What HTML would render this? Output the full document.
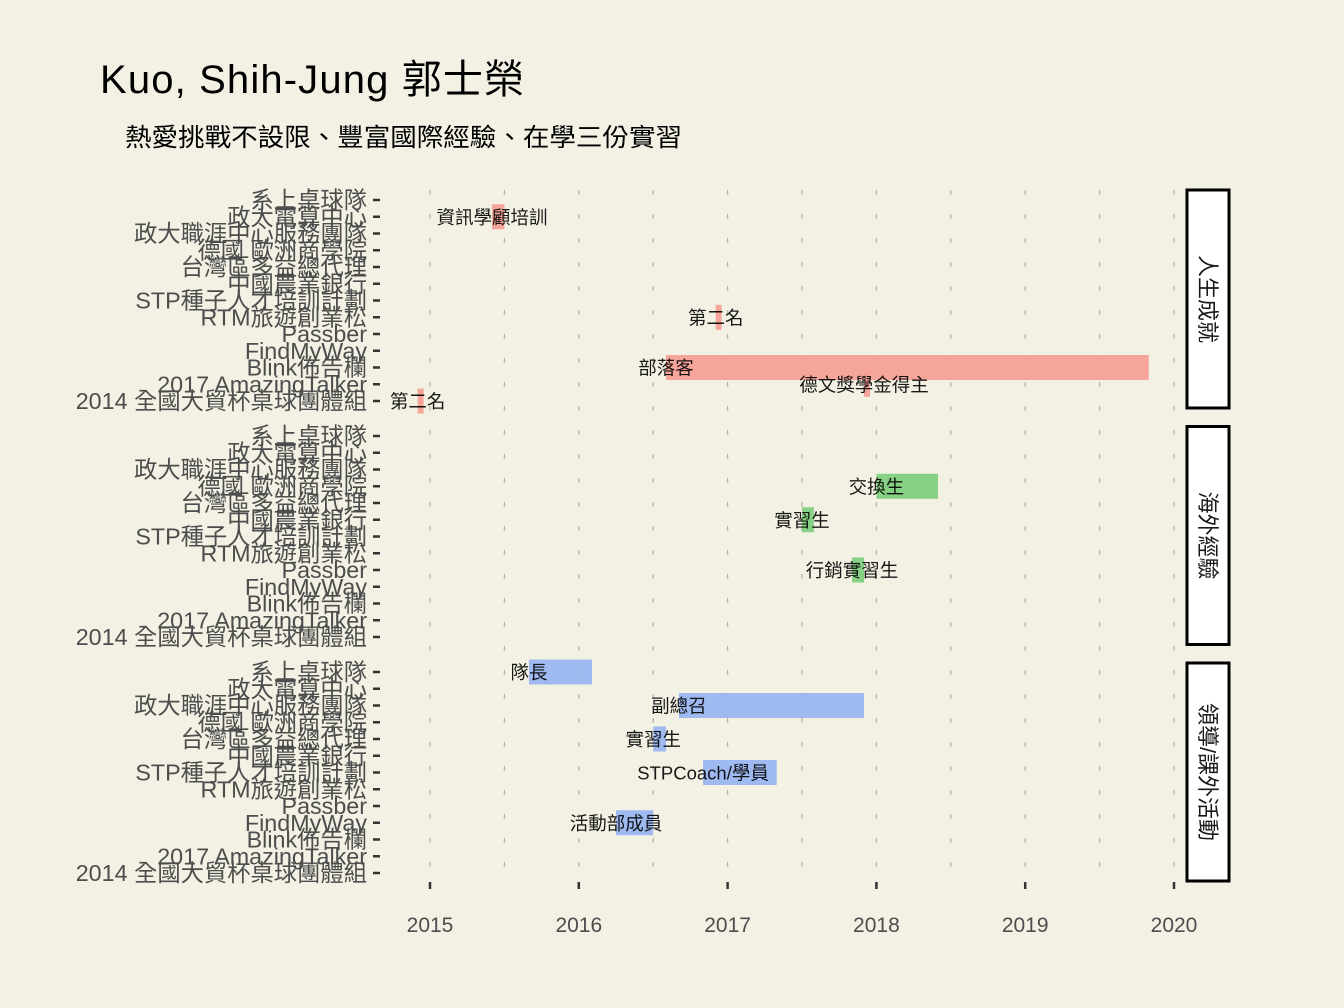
<!DOCTYPE html>
<html><head><meta charset="utf-8"><style>
html,body{margin:0;padding:0;background:#f3f1e4;}
svg{display:block;font-family:"Liberation Sans","Noto Sans CJK TC",sans-serif;}
</style></head><body>
<svg id="chart" width="1344" height="1008" viewBox="0 0 1344 1008">
<rect x="0" y="0" width="1344" height="1008" fill="#f3f1e4"/>
<text x="100" y="93" font-size="40" fill="#000" textLength="424" lengthAdjust="spacing">Kuo, Shih-Jung  郭士榮</text>
<text x="125" y="146" font-size="25" fill="#000" textLength="557" lengthAdjust="spacingAndGlyphs">熱愛挑戰不設限、豐富國際經驗、在學三份實習</text>
<g id="plot"></g>
</svg>
<script>
const categories = ["系上桌球隊","政大電算中心","政大職涯中心服務團隊","德國 歐洲商學院","台灣區多益總代理","中國農業銀行","STP種子人才培訓計劃","RTM旅遊創業松","Passber","FindMyWay","Blink佈告欄","2017 AmazingTalker","2014 全國大貿杯桌球團體組"];
const panels = ["人生成就","海外經驗","領導/課外活動"];
const panelColors = ["#f4a096","#7fcf7e","#9ab6f0"];
const xTicks = [2015,2016,2017,2018,2019,2020];
const barPanel = [0,0,0,0,0,1,1,1,2,2,2,2,2];
const barCategory = ["政大電算中心","RTM旅遊創業松","Blink佈告欄","2017 AmazingTalker","2014 全國大貿杯桌球團體組","德國 歐洲商學院","中國農業銀行","Passber","系上桌球隊","政大職涯中心服務團隊","台灣區多益總代理","STP種子人才培訓計劃","FindMyWay"];
const barStart = [2015.417,2016.92,2016.586,2017.917,2014.917,2018.0,2017.5,2017.836,2015.665,2016.673,2016.5,2016.835,2016.25];
const barEnd = [2015.5,2016.96,2019.83,2017.957,2014.957,2018.414,2017.58,2017.917,2016.089,2017.917,2016.586,2017.33,2016.5];
const barLabels = ["資訊學顧培訓","第二名","部落客","德文獎學金得主","第二名","交換生","實習生","行銷實習生","隊長","副總召","實習生","STPCoach/學員","活動部成員"];

const NS="http://www.w3.org/2000/svg";
const g=document.getElementById('plot');
const X0=430, X1=1174;
const x = v => X0 + (v-2015)*(X1-X0)/5;
const panelTop=[200,436,672], rowStep=16.75;
const y = (p,cat) => panelTop[p] + categories.indexOf(cat)*rowStep;
function mk(tag,attrs,parent){const e=document.createElementNS(NS,tag);for(const k in attrs)e.setAttribute(k,attrs[k]);(parent||g).appendChild(e);return e;}

for(let v=2015; v<=2020; v+=0.5){
  const gl=mk('line',{x1:x(v),x2:x(v),y1:190,y2:885,stroke:'#b8b6aa','stroke-width':1.3,'stroke-dasharray':'5,19'});
  
  
}
xTicks.forEach(t=>{
  const tk=mk('line',{x1:x(t),x2:x(t),y1:882,y2:889,stroke:'#333','stroke-width':2.5});
  
  
  const tl=mk('text',{x:x(t),y:932,'text-anchor':'middle','font-size':21,fill:'#4d4d4d'});
  tl.textContent=t;
  
  
});
panels.forEach((pn,p)=>{
  categories.forEach((c,i)=>{
    const yy=panelTop[p]+i*rowStep;
    const tk=mk('line',{x1:373,x2:380,y1:yy,y2:yy,stroke:'#333','stroke-width':2.5});
    
    
    const tl=mk('text',{x:367,y:yy+8,'text-anchor':'end','font-size':23.3,fill:'#4d4d4d'});
    tl.textContent=c;
    
    
  });
  const top=190+p*236.5;
  const sb=mk('rect',{x:1187,y:top,width:42,height:218,fill:'#ffffff',stroke:'#000','stroke-width':3});
  
  
  const st=mk('text',{x:0,y:0,'text-anchor':'middle','font-size':22,fill:'#1a1a1a',transform:`translate(1200,${top+109}) rotate(90)`});
  st.textContent=pn;
  
  
});
barLabels.forEach((lab,i)=>{
  const p=barPanel[i], yy=y(p,barCategory[i]);
  const r=mk('rect',{x:x(barStart[i]),y:yy-12.5,width:Math.max(1,x(barEnd[i])-x(barStart[i])),height:25,fill:panelColors[p],opacity:0.95});
  
  
});
barLabels.forEach((lab,i)=>{
  const p=barPanel[i], yy=y(p,barCategory[i]);
  const t=mk('text',{x:x(barStart[i]),y:yy+7,'text-anchor':'middle','font-size':18.5,fill:'#000','fill-opacity':0.9});
  t.textContent=lab;
  
  
});
</script>
</body></html>
